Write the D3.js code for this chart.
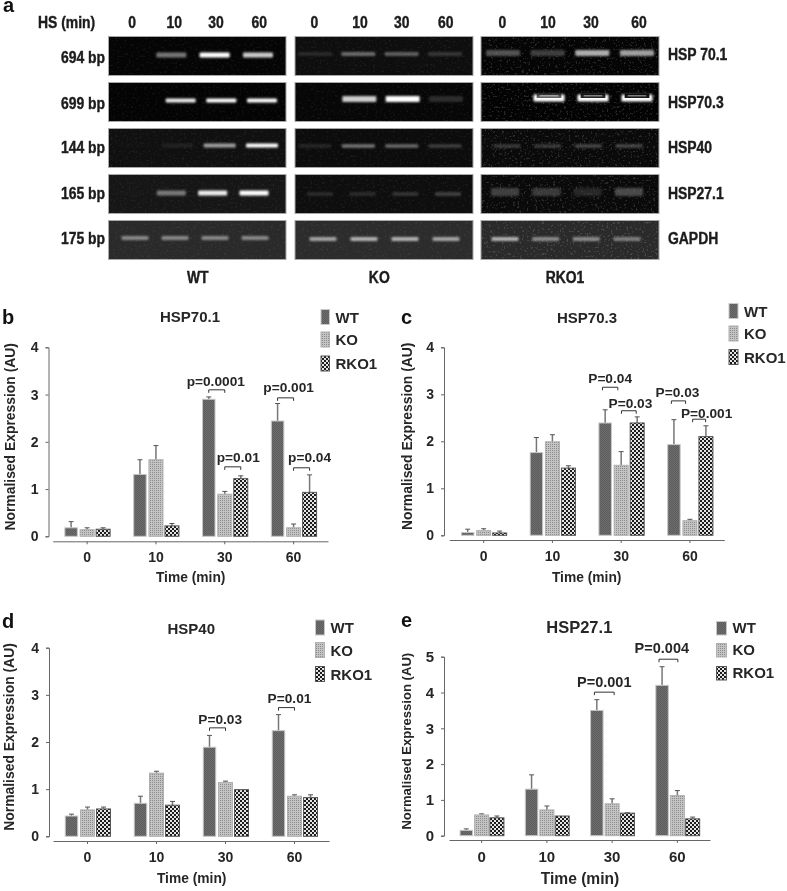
<!DOCTYPE html>
<meta charset="utf-8">
<style>
  body {
    margin: 0;
    background: #fff;
  }
  svg {
    display: block;
    filter: blur(0.4px);
  }
  text {
    font-family: "Liberation Sans", Arial, sans-serif;
    font-weight: bold;
    fill: #262626;
  }
  text.gel {
    font-size: 16px;
    fill: #1c1c1c;
    stroke: #1c1c1c;
    stroke-width: 0.4;
  }
  text.letter {
    font-size: 20px;
    fill: #111;
  }
  .axis path, .axis line {
    stroke: #666;
    stroke-width: 1;
  }
  .axis text {
    fill: #262626;
  }
  .err {
    stroke: #777;
    stroke-width: 1.5;
  }
  .cap {
    stroke: #555;
    stroke-width: 1;
  }
  .bracket {
    fill: none;
    stroke: #333;
    stroke-width: 1;
  }
</style>

<body>
  <div id="chart"></div>

  <script src="https://d3js.org/d3.v7.min.js"></script>

  <script>

    // gel
    var timeLabels = ["0", "10", "30", "60"],
        genotypes = ["WT", "KO", "RKO1"],
        geneNames = ["HSP 70.1", "HSP70.3", "HSP40", "HSP27.1", "GAPDH"],
        productSizes = ["694 bp", "699 bp", "144 bp", "165 bp", "175 bp"];

    // band brightness 0-1, one line per gene, in WT / KO / RKO1 order
    var bandsHsp701 = [[0, .55, 1, .85], [.18, .5, .45, .25], [.4, .3, .75, .7]],
        bandsHsp703 = [[0, .95, 1, 1], [0, .85, 1, .2], [0, 1, 1, 1]],
        bandsHsp40 = [[.05, .15, .7, 1], [.18, .55, .5, .3], [.28, .28, .35, .35]],
        bandsHsp271 = [[.06, .55, .95, 1], [.2, .2, .25, .32], [.3, .28, .18, .35]],
        bandsGapdh = [[.6, .6, .6, .6], [.7, .75, .75, .7], [.75, .6, .6, .55]];

    // burnt out centre of the RKO1 HSP70.3 bands
    var coresHsp703 = [0, .6, .85, .9];

    // bar charts, mean and error per time point
    var b_wt = [0.18, 1.31, 2.90, 2.44],  b_wtErr = [0.13, 0.31, 0.05, 0.37],
        b_ko = [0.14, 1.62, 0.89, 0.18],  b_koErr = [0.04, 0.30, 0.06, 0.08],
        b_rko = [0.15, 0.22, 1.22, 0.93], b_rkoErr = [0.03, 0.05, 0.06, 0.37];

    var c_wt = [0.06, 1.76, 2.39, 1.93],  c_wtErr = [0.07, 0.32, 0.28, 0.53],
        c_ko = [0.10, 1.99, 1.49, 0.31],  c_koErr = [0.04, 0.15, 0.29, 0.03],
        c_rko = [0.05, 1.43, 2.39, 2.10], c_rkoErr = [0.04, 0.05, 0.13, 0.23];

    var d_wt = [0.43, 0.70, 1.89, 2.24],  d_wtErr = [0.04, 0.15, 0.25, 0.34],
        d_ko = [0.56, 1.34, 1.14, 0.85],  d_koErr = [0.06, 0.04, 0.03, 0.03],
        d_rko = [0.58, 0.66, 0.99, 0.82], d_rkoErr = [0.04, 0.08, 0, 0.06];

    var e_wt = [0.15, 1.30, 3.50, 4.20],  e_wtErr = [0.04, 0.40, 0.30, 0.52],
        e_ko = [0.58, 0.72, 0.89, 1.12],  e_koErr = [0.03, 0.11, 0.14, 0.14],
        e_rko = [0.50, 0.55, 0.63, 0.47], e_rkoErr = [0.05, 0, 0.01, 0.05];

    // p labels: text, time point, bracket start and end in bars (0 WT, 1 KO, 2 RKO1), height in AU
    var b_pvals = [["p=0.0001", "30", 0, 1, 3.10], ["p=0.001", "60", 0, 1, 2.93],
                   ["p=0.01", "30", 1, 2, 1.47], ["p=0.04", "60", 1, 2, 1.45]],
        c_pvals = [["P=0.04", "30", -.17, .79, 3.15], ["P=0.03", "30", 1.02, 1.94, 2.65],
                   ["P=0.03", "60", -.16, .73, 2.86], ["P=0.001", "60", 1.17, 1.98, 2.47]],
        d_pvals = [["P=0.03", "30", 0, 1, 2.30], ["P=0.01", "60", 0, 1, 2.73]],
        e_pvals = [["P=0.001", "30", -.16, 1.13, 4.01], ["P=0.004", "60", -.2, 1.03, 4.93]];

    var svg = d3.select("#chart").append("svg")
                  .attr("width", 787)
                  .attr("height", 891);

    var defs = svg.append("defs");

    function addPattern(id, size, base, cells) {
      var p = defs.append("pattern")
                    .attr("id", id)
                    .attr("patternUnits", "userSpaceOnUse")
                    .attr("width", size)
                    .attr("height", size);
      p.append("rect").attr("width", size).attr("height", size).attr("fill", base);
      cells.forEach(function(c) {
        p.append("rect")
          .attr("x", c[0]).attr("y", c[1])
          .attr("width", c[2]).attr("height", c[2])
          .attr("fill", c[3]);
      });
    }

    addPattern("wtFill", 2, "#6e6e6e", [[0, 0, 1, "#5c5c5c"], [1, 1, 1, "#5c5c5c"]]);
    addPattern("koFill", 2, "#c4c4c4", [[0, 0, 1, "#8c8c8c"]]);
    addPattern("rkoFill", 4, "#e4e4e4", [[0, 0, 2, "#1c1c1c"], [2, 2, 2, "#1c1c1c"]]);

    var fills = {WT: "url(#wtFill)", KO: "url(#koFill)", RKO1: "url(#rkoFill)"},
        strokes = {WT: "#c8c8c8", KO: "#b0b0b0", RKO1: "#555"},
        barWidths = {WT: 12.5, KO: 14, RKO1: 14};

    defs.append("filter").attr("id", "bandBlur")
        .attr("x", "-30%").attr("y", "-150%").attr("width", "160%").attr("height", "400%")
      .append("feGaussianBlur").attr("stdDeviation", 1.1);

    defs.append("filter").attr("id", "coreBlur")
        .attr("x", "-30%").attr("y", "-150%").attr("width", "160%").attr("height", "400%")
      .append("feGaussianBlur").attr("stdDeviation", 0.5);

    var grain = defs.append("filter").attr("id", "grain")
                    .attr("x", 0).attr("y", 0).attr("width", "100%").attr("height", "100%");
    grain.append("feTurbulence")
        .attr("type", "fractalNoise")
        .attr("baseFrequency", 0.45)
        .attr("numOctaves", 2)
        .attr("seed", 7);
    grain.append("feColorMatrix")
        .attr("values", "0 0 0 0 1  0 0 0 0 1  0 0 0 0 1  0 0 0 8 -4.8");

    var gelPanels = [
      {x0: 108.5, x1: 286, row: [[128, 258, 30], [140, 262, 30], [135, 262, 32], [130, 254, 29], [135, 255, 27]]},
      {x0: 295, x1: 473, row: [[315, 445, 34], [316, 446, 34], [315, 445, 33], [320, 448, 26], [323, 446, 27]]},
      {x0: 481, x1: 659, row: [[503, 637, 34], [505, 637, 31], [507, 629, 27], [505, 629, 28], [505, 627, 27]]}
    ];

    var gelRows = [
      {top: 36.5, bandY: [55, 54, 53], bandH: [5, 4, 6], levels: bandsHsp701, bg: ["#050505", "#0e0e0e", "#050505"], nameY: 60, sizeY: 62.7},
      {top: 82.5, bandY: [100.5, 99, 98], bandH: [4, 6, 7], levels: bandsHsp703, bg: ["#040404", "#070707", "#030303"], nameY: 108, sizeY: 109.3},
      {top: 128.5, bandY: [145.5, 146, 146], bandH: [4, 3.5, 3.5], levels: bandsHsp40, bg: ["#101010", "#0c0c0c", "#0a0a0a"], nameY: 152.7, sizeY: 153.3},
      {top: 174.5, bandY: [193, 194, 192], bandH: [5, 3.5, 8], levels: bandsHsp271, bg: ["#161616", "#0e0e0e", "#0a0a0a"], nameY: 199, sizeY: 199.3},
      {top: 220.5, bandY: [238, 239, 239], bandH: [4, 4, 4], levels: bandsGapdh, bg: ["#2a2a2a", "#2c2c2c", "#2a2a2a"], nameY: 244.3, sizeY: 244.3}
    ];

    var bandGrey = d3.scaleLinear().domain([0, 1]).range(["#161616", "#ffffff"]),
        bandAlpha = d3.scaleLinear().domain([0, .2, 1]).range([0, .6, 1]);

    var laneLabelX = [[132, 174.3, 216, 259.3], [314.3, 360, 401.7, 445.7], [502.3, 548, 591, 639]],
        genotypeX = [197.7, 379.3, 565];

    // the blot labels are set in a condensed face, squeeze the sans instead
    function gelText(g, x, y, anchor, label) {
      g.append("text").attr("class", "gel")
        .attr("transform", "translate(" + x + "," + y + ")scale(.87,1)")
        .attr("text-anchor", anchor)
        .text(label);
    }

    function drawGel() {
      var g = svg.append("g");

      gelRows.forEach(function(row, r) {
        gelPanels.forEach(function(panel, k) {
          g.append("rect")
            .attr("x", panel.x0).attr("y", row.top)
            .attr("width", panel.x1 - panel.x0).attr("height", 39)
            .attr("fill", row.bg[k])
            .attr("stroke", "#a8a8a8");

          g.append("rect")
            .attr("x", panel.x0 + 1).attr("y", row.top + 1)
            .attr("width", panel.x1 - panel.x0 - 2).attr("height", 37)
            .attr("filter", "url(#grain)")
            .attr("opacity", k == 2 ? .14 : .05);

          var lane = d3.scalePoint()
                          .domain(timeLabels)
                          .range([panel.row[r][0], panel.row[r][1]]),
              w = panel.row[r][2];

          timeLabels.forEach(function(t, i) {
            var level = row.levels[k][i];
            if (level == 0) return;
            g.append("rect")
              .attr("x", lane(t) - w / 2)
              .attr("y", row.bandY[k] - row.bandH[k] / 2)
              .attr("width", w)
              .attr("height", row.bandH[k])
              .attr("rx", 1)
              .attr("fill", bandGrey(level))
              .attr("opacity", bandAlpha(level))
              .attr("filter", "url(#bandBlur)");

            // hollow centre in the RKO1 HSP70.3 row
            if (r == 1 && k == 2 && coresHsp703[i] > 0) {
              g.append("rect")
                .attr("x", lane(t) - w * .4)
                .attr("y", row.bandY[k] - 4.5)
                .attr("width", w * .8)
                .attr("height", 4.5)
                .attr("fill", "#000")
                .attr("opacity", coresHsp703[i])
                .attr("filter", "url(#coreBlur)");
              g.append("rect")
                .attr("x", lane(t) - w * .3)
                .attr("y", row.bandY[k] - 2.6)
                .attr("width", w * .6)
                .attr("height", .9)
                .attr("fill", "#fff")
                .attr("opacity", .75);
            }
          });
        });

        gelText(g, 105, row.sizeY, "end", productSizes[r]);
        gelText(g, 668, row.nameY, "start", geneNames[r]);
      });

      gelText(g, 38, 27.7, "start", "HS (min)");

      genotypes.forEach(function(name, k) {
        timeLabels.forEach(function(t, i) {
          gelText(g, laneLabelX[k][i], 27.7, "middle", t);
        });
        gelText(g, genotypeX[k], 282.5, "middle", name);
      });

      g.append("text").attr("class", "letter").attr("x", 3).attr("y", 12).text("a");
    }

    function barChart(o) {
      var g = svg.append("g");

      var x = d3.scaleBand().domain(timeLabels).range([o.xStart, o.xEnd]),
          bars = d3.scaleBand().domain(genotypes).range([-1.5 * o.barStep, 1.5 * o.barStep]),
          y = d3.scaleLinear().domain([0, o.yMax]).range([o.y0, o.yTop]),
          yTicks = d3.range(0, o.yMax + 1);

      var series = genotypes.map(function(name, k) {
        return {name: name, values: o.values[k], errors: o.errors[k]};
      });

      var yAxis = g.append("g")
                    .attr("class", "axis")
                    .attr("transform", "translate(" + o.axisX + ",0)")
                    .call(d3.axisLeft(y).tickValues(yTicks).tickFormat(d3.format("d")).tickSize(3).tickSizeOuter(3));

      yAxis.selectAll("text")
        .style("font-size", o.tickSize + "px")
        .attr("x", -10);

      var xAxis = g.append("g")
                    .attr("class", "axis")
                    .attr("transform", "translate(0," + o.lineY + ")")
                    .call(d3.axisBottom(x).tickSize(3).tickSizeOuter(0));

      xAxis.selectAll("text")
        .style("font-size", o.tickSize + "px")
        .attr("y", 11);

      timeLabels.forEach(function(t) {
        var cx = x(t) + x.bandwidth() / 2;

        series.forEach(function(s, k) {
          var v = s.values[timeLabels.indexOf(t)],
              err = s.errors[timeLabels.indexOf(t)],
              mid = cx + bars(s.name) + bars.bandwidth() / 2,
              w = barWidths[s.name];

          if (err > 0) {
            g.append("line").attr("class", "err")
              .attr("x1", mid).attr("x2", mid)
              .attr("y1", y(v)).attr("y2", y(v + err));
            g.append("line").attr("class", "cap")
              .attr("x1", mid - 2.5).attr("x2", mid + 2.5)
              .attr("y1", y(v + err)).attr("y2", y(v + err));
          }

          g.append("rect")
            .attr("x", mid - w / 2)
            .attr("y", y(v))
            .attr("width", w)
            .attr("height", o.y0 - y(v))
            .attr("fill", fills[s.name])
            .attr("stroke", strokes[s.name]);
        });
      });

      // p value brackets
      o.pvals.forEach(function(d, i) {
        var cx = x(d[1]) + x.bandwidth() / 2,
            x1 = cx + (d[2] - 1) * o.barStep,
            x2 = cx + (d[3] - 1) * o.barStep,
            yy = y(d[4]);

        g.append("path").attr("class", "bracket")
          .attr("d", "M" + x1 + "," + (yy + 3) + "V" + yy + "H" + x2 + "V" + (yy + 3));

        g.append("text")
          .attr("x", (x1 + x2) / 2 + o.pDx[i])
          .attr("y", yy - o.pDy[i])
          .attr("text-anchor", "middle")
          .style("font-size", o.pSize + "px")
          .text(d[0]);
      });

      g.append("text")
        .attr("x", o.titleX).attr("y", o.titleY)
        .attr("text-anchor", "middle")
        .style("font-size", o.titleSize + "px")
        .text(o.title);

      g.append("text")
        .attr("transform", "translate(" + o.labelX + "," + (o.yTop + o.y0 - 10) / 2 + ")rotate(-90)")
        .attr("text-anchor", "middle")
        .style("font-size", o.labelSize + "px")
        .text("Normalised Expression (AU)");

      g.append("text")
        .attr("x", o.timeX).attr("y", o.timeY)
        .attr("text-anchor", "middle")
        .style("font-size", o.timeSize + "px")
        .text("Time (min)");

      genotypes.forEach(function(name, k) {
        g.append("rect")
          .attr("x", o.legendX).attr("y", o.legendY[k])
          .attr("width", o.legendW).attr("height", o.legendH)
          .attr("fill", fills[name])
          .attr("stroke", strokes[name]);

        g.append("text")
          .attr("x", o.legendX + o.legendW + 6)
          .attr("y", o.legendY[k] + o.legendH - 2)
          .style("font-size", "15px")
          .text(name);
      });

      g.append("text").attr("class", "letter")
        .attr("x", o.letterX).attr("y", o.letterY)
        .text(o.letter);
    }

    drawGel();

    barChart({
      letter: "b", letterX: 2, letterY: 324, title: "HSP70.1", titleX: 190, titleY: 321.7, titleSize: 15,
      values: [b_wt, b_ko, b_rko], errors: [b_wtErr, b_koErr, b_rkoErr], pvals: b_pvals,
      pDx: [-1, 3, 5.5, 8], pDy: [4, 6, 5.3, 6], pSize: 13.7,
      axisX: 48.5, y0: 536.3, yTop: 347.3, yMax: 4, lineY: 541.3, xStart: 52.7, xEnd: 328, barStep: 16,
      tickSize: 14, labelX: 15, labelSize: 13.9, timeX: 190.7, timeY: 582, timeSize: 13.8,
      legendX: 321, legendY: [309.5, 332, 356], legendW: 8.5, legendH: 15
    });

    barChart({
      letter: "c", letterX: 401, letterY: 324, title: "HSP70.3", titleX: 587, titleY: 322.7, titleSize: 15,
      values: [c_wt, c_ko, c_rko], errors: [c_wtErr, c_koErr, c_rkoErr], pvals: c_pvals,
      pDx: [0, 1.6, -1, 7.5], pDy: [4, 3, 3.4, 1.3], pSize: 13.7,
      axisX: 444, y0: 535.3, yTop: 347.3, yMax: 4, lineY: 540, xStart: 449.3, xEnd: 724.3, barStep: 16,
      tickSize: 14, labelX: 411.7, labelSize: 13.9, timeX: 586.7, timeY: 582, timeSize: 13.8,
      legendX: 729, legendY: [303.5, 326, 349.5], legendW: 9, legendH: 15
    });

    barChart({
      letter: "d", letterX: 2, letterY: 628, title: "HSP40", titleX: 191.3, titleY: 634.3, titleSize: 15,
      values: [d_wt, d_ko, d_rko], errors: [d_wtErr, d_koErr, d_rkoErr], pvals: d_pvals,
      pDx: [2.7, 3], pDy: [3.7, 4.4], pSize: 13.7,
      axisX: 49, y0: 836.3, yTop: 647.7, yMax: 4, lineY: 841, xStart: 53, xEnd: 329, barStep: 16,
      tickSize: 14, labelX: 14, labelSize: 13.9, timeX: 191.7, timeY: 883, timeSize: 13.8,
      legendX: 315.5, legendY: [620, 642.5, 666.5], legendW: 9, legendH: 15
    });

    barChart({
      letter: "e", letterX: 401, letterY: 627, title: "HSP27.1", titleX: 579.3, titleY: 633.3, titleSize: 16.5,
      values: [e_wt, e_ko, e_rko], errors: [e_wtErr, e_koErr, e_rkoErr], pvals: e_pvals,
      pDx: [0, -6.6], pDy: [5.3, 6], pSize: 14.5,
      axisX: 444, y0: 835.7, yTop: 656.7, yMax: 5, lineY: 840, xStart: 449, xEnd: 710, barStep: 15.3,
      tickSize: 15, labelX: 411, labelSize: 13.1, timeX: 580, timeY: 884, timeSize: 15.6,
      legendX: 716.5, legendY: [621.5, 643.5, 666.5], legendW: 10, legendH: 13.5
    });

  </script>

</body>
